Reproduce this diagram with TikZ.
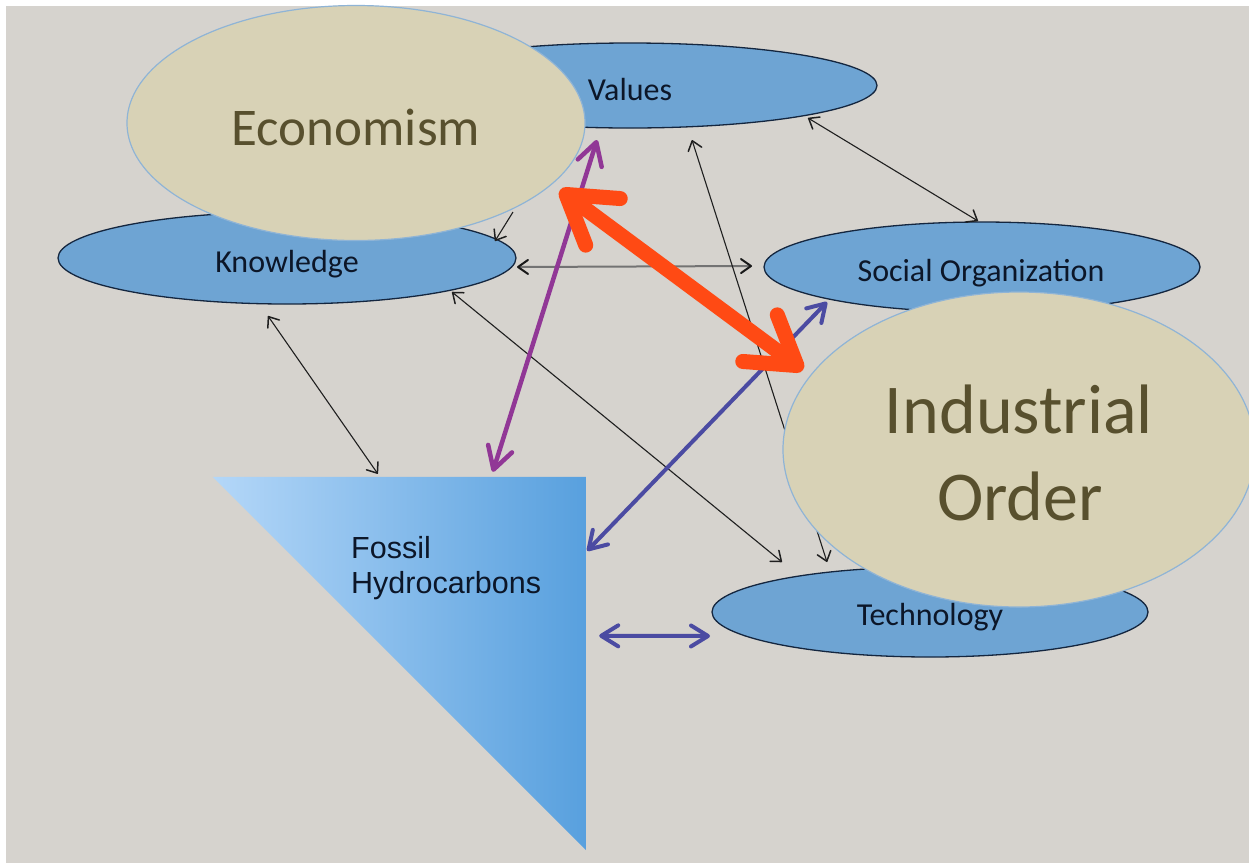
\documentclass[tikz,border=0pt]{standalone}
\usepackage{fontspec}
\setmainfont{Carlito}
\newfontfamily\arialf{Liberation Sans}
\usetikzlibrary{arrows.meta,shapes.geometric,calc}
\definecolor{bgC}{RGB}{214,211,206}
\definecolor{ellF}{RGB}{110,164,211}
\definecolor{ellB}{RGB}{20,38,63}
\definecolor{bigF}{RGB}{216,210,182}
\definecolor{bigB}{RGB}{143,180,214}
\definecolor{bigT}{RGB}{88,80,46}
\definecolor{labC}{RGB}{12,22,40}
\definecolor{triL}{RGB}{180,215,248}
\definecolor{triR}{RGB}{88,160,222}
\definecolor{redC}{RGB}{255,74,20}
\definecolor{purC}{RGB}{145,55,150}
\definecolor{bluC}{RGB}{75,75,162}
\pgfdeclarelayer{bg}
\pgfdeclarelayer{low}
\pgfdeclarelayer{top}
\pgfsetlayers{bg,low,main,top}
\begin{document}
\begin{tikzpicture}[x=1pt,y=-1pt,
  ell/.style={ellipse, draw=ellB, line width=1.3pt, fill=ellF, inner sep=0pt},
  bigell/.style={ellipse, draw=bigB, line width=1.2pt, fill=bigF, inner sep=0pt},
  lab/.style={anchor=base, text=labC, font=\fontsize{32}{38}\selectfont, inner sep=0pt},
  biglab/.style={anchor=base, text=bigT, inner sep=0pt},
  foslab/.style={anchor=base west, text=labC, font=\arialf\fontsize{30.5}{36}\selectfont, inner sep=0pt},
  blkarr/.style={line width=1.1pt, draw=black!88, >={Straight Barb[round,length=9pt,width=14pt,line width=1.5pt]}, <->},
  grayarr/.style={line width=2pt, draw=black!55, >={Straight Barb[round,length=10pt,width=14pt,color=black!90]}, <->},
  redarr/.style={line width=15pt, draw=redC, >={Straight Barb[round,length=46pt,width=58pt]}, <->},
  purarr/.style={line width=4.5pt, draw=purC, >={Straight Barb[round,length=22pt,width=25pt]}, <->},
  bluarr/.style={line width=4pt, draw=bluC, >={Straight Barb[round,length=17pt,width=21pt]}, <->}
]
\useasboundingbox (0,0) rectangle (1249,863);
\begin{pgfonlayer}{bg}
\fill[white] (0,0) rectangle (1249,863);
\fill[bgC] (6,6) rectangle (1249,863);
\end{pgfonlayer}

% big ellipses (main layer, above the connectors)
\node[bigell, minimum width=458pt, minimum height=235pt] (econ) at (356,123) {};
\node[bigell, minimum width=472pt, minimum height=315pt] (io) at (1019,449.5) {};

\begin{pgfonlayer}{low}
% small ellipses
\node[ell, minimum width=494pt, minimum height=85pt] (val) at (630,85.5) {};
\node[ell, minimum width=458pt, minimum height=92pt] (know) at (287,258) {};
\node[ell, minimum width=436pt, minimum height=90pt] (soc) at (982,267) {};
\node[ell, minimum width=436pt, minimum height=90pt] (tech) at (930,612) {};

% fossil triangle
\node[minimum width=373pt, minimum height=373pt, inner sep=0pt] (fos) at (399.5,663.5) {};
\shade[left color=triL, right color=triR] (fos.north west) -- (fos.north east) -- (fos.south east) -- cycle;

% thin connectors
\draw[blkarr, ->] ($(econ)+(157,89)$) -- ($(know)+(208,-17)$);
\draw[grayarr] ($(know)+(230,9)$) -- ($(soc)+(-230,-1)$);
\draw[blkarr] ($(val)+(178,32.5)$) -- ($(soc)+(-4,-46)$);
\draw[blkarr] ($(know)+(-19,58)$) -- ($(fos.north west)+(165,-3)$);
\draw[blkarr] ($(know)+(165,34)$) -- ($(tech)+(-148,-50)$);
\draw[blkarr] ($(val)+(62,54.5)$) -- ($(tech)+(-103,-50)$);

% colored connectors
\draw[purarr] ($(val)+(-33,54.5)$) -- ($(fos.north west)+(280,-5)$);
\draw[bluarr] ($(soc)+(-155,35)$) -- ($(fos.north east)+(1,74)$);
\draw[bluarr] ($(fos.north east)+(13,159)$) -- ($(tech)+(-220,24)$);
\end{pgfonlayer}

\begin{pgfonlayer}{top}
\draw[redarr] ($(econ)+(204,67)$) -- ($(io)+(-216,-79.5)$);

% labels
\node[lab] (valt) at (630,100.5) {Values};
\node[lab] (knowt) at (287,272.5) {Knowledge};
\node[lab] (soct) at (981,281.5) {Social Organization};
\node[lab] (techt) at (930,625.5) {Technology};
\node[biglab, font=\fontsize{53}{60}\selectfont] (econt) at (356,145) {Economism};
\node[biglab, font=\fontsize{70}{84}\selectfont] (iot1) at (1019,433) {Industrial};
\node[biglab, font=\fontsize{70}{84}\selectfont] (iot2) at (1020,520) {Order};
\node[foslab] (fost1) at (351,558) {Fossil};
\node[foslab] (fost2) at (351,593) {Hydrocarbons};
\end{pgfonlayer}
\end{tikzpicture}
\end{document}
